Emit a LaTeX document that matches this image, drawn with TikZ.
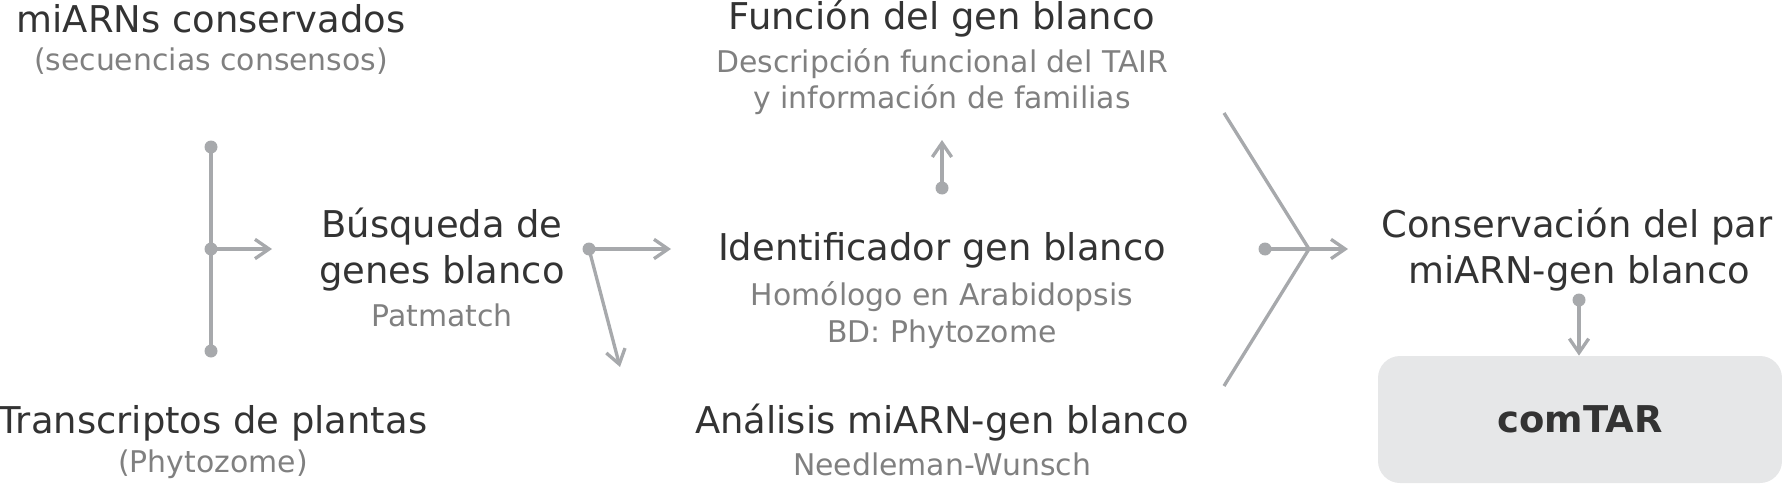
\documentclass[tikz,border=0pt]{standalone}
\usepackage{fontspec}
\setmainfont{DejaVu Sans}
\usepackage{tikz}
\usetikzlibrary{arrows.meta, positioning}
\definecolor{titlegray}{HTML}{333333}
\definecolor{subgray}{HTML}{808080}
\definecolor{linegray}{HTML}{A7A9AC}
\definecolor{boxgray}{HTML}{E6E7E8}
\tikzset{
    titletext/.style={inner sep=0pt, anchor=base, text=titlegray,
        font=\fontsize{21}{24}\selectfont},
    subtext/.style={inner sep=0pt, anchor=base, text=subgray,
        font=\fontsize{17}{20}\selectfont},
    flowdot/.style={circle, fill=linegray, inner sep=0pt, minimum size=0.26cm},
    flowline/.style={line width=1.9pt, draw=linegray},
    flowarrow/.style={flowline, -{Straight Barb[length=8pt, width=11pt]}},
    resultbox/.style={rectangle, rounded corners=0.44cm, fill=boxgray,
        minimum width=8.08cm, minimum height=2.54cm, text=titlegray,
        font=\fontsize{21}{24}\selectfont\bfseries},
}

\begin{document}
\begin{tikzpicture}
    \useasboundingbox (0,0) rectangle (35.64,9.66);

    % entradas
    \node[titletext] (mirnaTitle) at (4.22,9.02) {miARNs conservados};
    \node[subtext] (mirnaSub) at (4.22,8.24) {(secuencias consensos)};
    \node[titletext] (plantTitle) at (4.26,1.0) {Transcriptos de plantas};
    \node[subtext] (plantSub) at (4.26,0.21) {(Phytozome)};

    \node[flowdot] (mirnaDot) at (4.22,6.72) {};
    \node[flowdot] (joinDot) at (4.22,4.68) {};
    \node[flowdot] (plantDot) at (4.22,2.64) {};
    \coordinate (searchIn) at (5.44,4.68);
    \draw[flowline] (mirnaDot.center) -- (plantDot.center);
    \draw[flowarrow] (joinDot.center) -- (searchIn);

    % busqueda
    \node[titletext] (searchTitleA) at (8.84,4.92) {Búsqueda de};
    \node[titletext] (searchTitleB) at (8.84,4.0) {genes blanco};
    \node[subtext] (searchSub) at (8.84,3.14) {Patmatch};

    \node[flowdot] (searchDot) at (11.78,4.68) {};
    \coordinate (idIn) at (13.42,4.68);
    \coordinate (analysisIn) at (12.40,2.32);
    \draw[flowarrow] (searchDot.center) -- (idIn);
    \draw[flowarrow] (searchDot.center) -- (analysisIn);

    % gen blanco
    \node[titletext] (idTitle) at (18.84,4.46) {Identificador gen blanco};
    \node[subtext] (idSubA) at (18.84,3.56) {Homólogo en Arabidopsis};
    \node[subtext] (idSubB) at (18.84,2.82) {BD: Phytozome};

    \node[flowdot] (funcDot) at (18.84,5.90) {};
    \coordinate (funcIn) at (18.84,6.86);
    \draw[flowarrow] (funcDot.center) -- (funcIn);

    \node[titletext] (funcTitle) at (18.84,9.08) {Función del gen blanco};
    \node[subtext] (funcSubA) at (18.84,8.22) {Descripción funcional del TAIR};
    \node[subtext] (funcSubB) at (18.84,7.50) {y información de familias};

    \node[titletext] (analysisTitle) at (18.84,1.0) {Análisis miARN-gen blanco};
    \node[subtext] (analysisSub) at (18.84,0.16) {Needleman-Wunsch};

    % convergencia
    \coordinate (mergeTop) at (24.48,7.40);
    \coordinate (mergeApex) at (26.18,4.68);
    \coordinate (mergeBottom) at (24.48,1.94);
    \draw[flowline] (mergeTop) -- (mergeApex) -- (mergeBottom);

    \node[flowdot] (consDot) at (25.30,4.68) {};
    \coordinate (consIn) at (26.96,4.68);
    \draw[flowarrow] (consDot.center) -- (consIn);

    \node[titletext] (consTitleA) at (31.54,4.92) {Conservación del par};
    \node[titletext] (consTitleB) at (31.58,4.0) {miARN-gen blanco};

    \node[flowdot] (outDot) at (31.58,3.66) {};
    \node[resultbox] (comtar) at (31.60,1.27) {comTAR};
    \draw[flowarrow] (outDot.center) -- (comtar.north -| outDot);
\end{tikzpicture}
\end{document}
